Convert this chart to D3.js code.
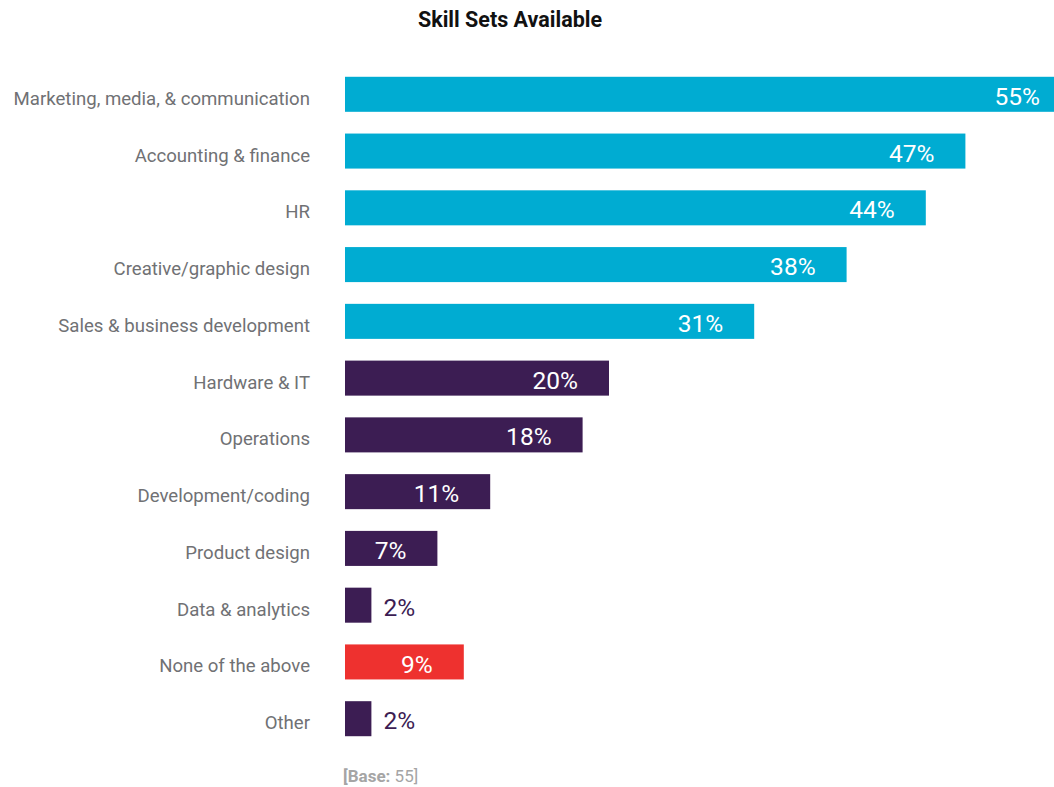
<!DOCTYPE html>
<html>
<head>
<meta charset="utf-8">
<script src="https://cdn.jsdelivr.net/npm/d3@7"></script>
<style>
  body { margin: 0; background: #fff; }
  svg { display: block; font-family: Roboto, "Noto Sans", sans-serif; }
</style>
</head>
<body>
<script>
// data
var categories = ["Marketing, media, & communication", "Accounting & finance", "HR",
  "Creative/graphic design", "Sales & business development", "Hardware & IT", "Operations",
  "Development/coding", "Product design", "Data & analytics", "None of the above", "Other"];
var values = [55, 47, 44, 38, 31, 20, 18, 11, 7, 2, 9, 2];
var groups = ["top", "top", "top", "top", "top", "rest", "rest", "rest", "rest", "rest", "none", "rest"];
var baseCount = 55;

var data = categories.map(function(c, i) { return {name: c, value: values[i], group: groups[i]}; });

var svg = d3.select("body").append("svg").attr("width", 1054).attr("height", 787);

var color = d3.scaleOrdinal()
    .domain(["top", "rest", "none"])
    .range(["#00acd2", "#3c1d53", "#ee312f"]);

var x = d3.scaleLinear().domain([0, 55]).range([345, 345 + 726]);

var y = d3.scaleBand()
    .domain(categories)
    .range([66, 747])
    .paddingInner(0.383)
    .paddingOuter(0.19);

// title
svg.append("text")
    .attr("x", 510)
    .attr("y", 27)
    .attr("text-anchor", "middle")
    .attr("font-size", 21.5)
    .attr("font-weight", "bold")
    .attr("fill", "#111")
    .text("Skill Sets Available");

// bars
svg.append("g")
  .selectAll("rect")
  .data(data)
  .enter().append("rect")
    .attr("x", x(0))
    .attr("y", function(d) { return y(d.name); })
    .attr("width", function(d) { return x(d.value) - x(0); })
    .attr("height", y.bandwidth())
    .attr("fill", function(d) { return color(d.group); });

// category labels
svg.append("g")
  .selectAll("text")
  .data(data)
  .enter().append("text")
    .attr("x", 310)
    .attr("y", function(d) { return y(d.name) + y.bandwidth() / 2 + 4; })
    .attr("dy", "0.35em")
    .attr("text-anchor", "end")
    .attr("font-size", 18.6)
    .attr("fill", "#707174")
    .text(function(d) { return d.name; });

// value labels, inside the bar unless it is too short
svg.append("g")
  .selectAll("text")
  .data(data)
  .enter().append("text")
    .attr("x", function(d) { return d.value < 5 ? x(d.value) + 12 : x(d.value) - 31; })
    .attr("y", function(d) { return y(d.name) + y.bandwidth() / 2 + 2; })
    .attr("dy", "0.35em")
    .attr("text-anchor", function(d) { return d.value < 5 ? "start" : "end"; })
    .attr("font-size", 24.5)
    .attr("fill", function(d) { return d.value < 5 ? "#3c1d53" : "#fff"; })
    .text(function(d) { return d.value + "%"; });

// base note
var base = svg.append("text")
    .attr("x", 343)
    .attr("y", 782)
    .attr("font-size", 17)
    .attr("fill", "#a5a5a5");
base.append("tspan").attr("font-weight", "bold").text("[Base:");
base.append("tspan").text(" " + baseCount + "]");
</script>
</body>
</html>
